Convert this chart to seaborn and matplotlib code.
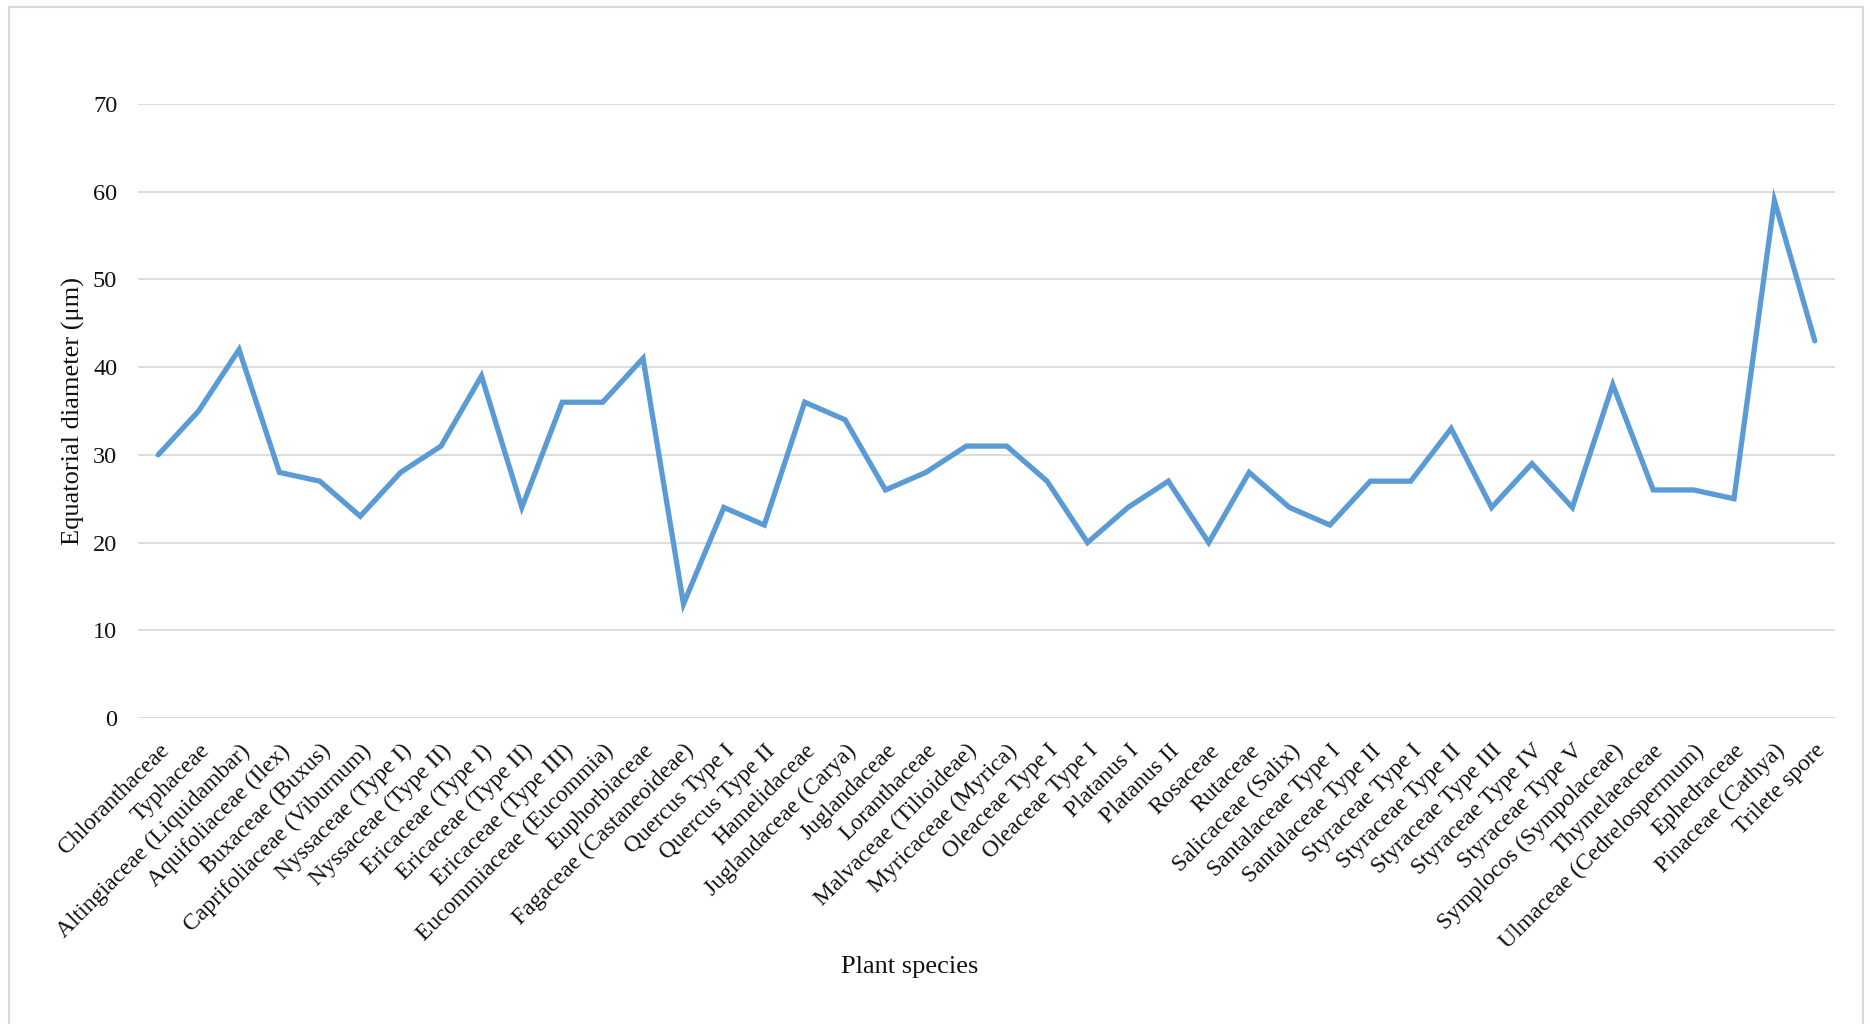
import numpy as np
import matplotlib
matplotlib.use("Agg")
import matplotlib.pyplot as plt
from matplotlib.patches import Rectangle
import seaborn as sns

species = [
    "Chloranthaceae", "Typhaceae", "Altingiaceae (Liquidambar)", "Aquifoliaceae (Ilex)",
    "Buxaceae (Buxus)", "Caprifoliaceae (Viburnum)", "Nyssaceae (Type I)", "Nyssaceae (Type II)",
    "Ericaceae (Type I)", "Ericaceae (Type II)", "Ericaceae (Type III)", "Eucommiaceae (Eucommia)",
    "Euphorbiaceae", "Fagaceae (Castaneoideae)", "Quercus Type I", "Quercus Type II",
    "Hamelidaceae", "Juglandaceae (Carya)", "Juglandaceae", "Loranthaceae",
    "Malvaceae (Tilioideae)", "Myricaceae (Myrica)", "Oleaceae Type I", "Oleaceae Type I",
    "Platanus I", "Platanus II", "Rosaceae", "Rutaceae", "Salicaceae (Salix)",
    "Santalaceae Type I", "Santalaceae Type II", "Styraceae Type I", "Styraceae Type II",
    "Styraceae Type III", "Styraceae Type IV", "Styraceae Type V", "Symplocos (Sympolaceae)",
    "Thymelaeaceae", "Ulmaceae (Cedrelospermum)", "Ephedraceae", "Pinaceae (Cathya)",
    "Trilete spore",
]
diameter = [
    30, 35, 42, 28, 27, 23, 28, 31, 39, 24, 36, 36, 41, 13, 24, 22,
    36, 34, 26, 28, 31, 31, 27, 20, 24, 27, 20, 28, 24, 22, 27, 27,
    33, 24, 29, 24, 38, 26, 26, 25, 59, 43,
]
y_ticks = [0, 10, 20, 30, 40, 50, 60, 70]

sns.set_theme(style="white")
plt.rcParams["font.family"] = ["Liberation Serif", "DejaVu Serif"]

fig = plt.figure(figsize=(18.7, 10.24), dpi=100)
ax = fig.add_axes([138 / 1870, 1 - 718 / 1024, (1835 - 138) / 1870, (718 - 104) / 1024])

pos = np.arange(len(species))
sns.lineplot(x=pos, y=diameter, ax=ax, color="#5B9BD5", linewidth=3.8,
             sort=False, solid_capstyle="round", solid_joinstyle="miter")

ax.set_xlim(-0.5, len(species) - 0.5)
ax.set_ylim(0, 70)
ax.set_yticks(y_ticks)
ax.set_yticklabels([str(v) for v in y_ticks], fontsize=17.5, color="#111111")
ax.set_xticks(pos)
ax.set_xticklabels(species, rotation=45, ha="right", rotation_mode="anchor",
                   fontsize=17, color="#111111")
ax.tick_params(axis="both", length=0)
ax.tick_params(axis="x", pad=16)
ax.tick_params(axis="y", pad=15)
ax.grid(axis="y", color="#d9d9d9", linewidth=1.3)
ax.set_axisbelow(True)
for s in ax.spines.values():
    s.set_visible(False)

ax.set_ylabel("Equatorial diameter (μm)", fontsize=19, color="#111111", labelpad=6)
ax.set_xlabel("Plant species", fontsize=19, color="#111111")
ax.xaxis.set_label_coords(0.455, -(956 - 718) / (718 - 104))

fig.add_artist(Rectangle((9 / 1870, -0.02), (1863 - 9) / 1870, 1.02 - 7 / 1024,
                         transform=fig.transFigure, fill=False,
                         edgecolor="#d9d9d9", linewidth=1.5))

fig.savefig("out.png", dpi=100, facecolor="white")
